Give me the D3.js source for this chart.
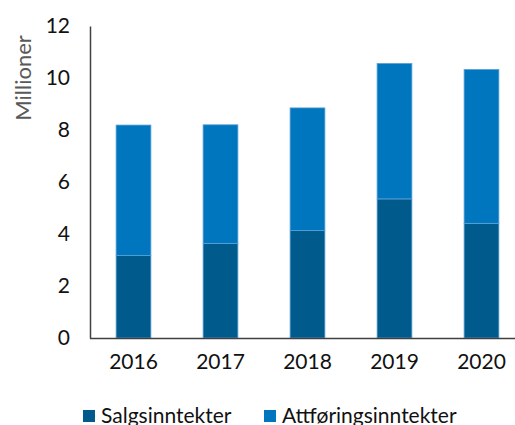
<!DOCTYPE html>
<html lang="no">
<head>
<meta charset="UTF-8">
<title>Inntekter</title>
<script src="https://cdn.jsdelivr.net/npm/d3@7"></script>
<style>
  body { margin: 0; background: #fff; }
  text { font-family: "Lato", "DejaVu Sans", sans-serif; }
</style>
</head>
<body>
<svg width="515" height="425" id="chart"></svg>
<script>
    const years = ['2016', '2017', '2018', '2019', '2020'];
    const salg = [3.17, 3.64, 4.13, 5.35, 4.41];
    const attforing = [5.02, 4.56, 4.72, 5.21, 5.92];
    const seriesNames = ['Salgsinntekter', 'Attføringsinntekter'];
    const colors = ['#005a8c', '#0076bf'];
    const yTicks = [0, 2, 4, 6, 8, 10, 12];

    const svg = d3.select('#chart');
    const x0 = 90, x1 = 525, yTop = 26, yBottom = 338;

    const rows = years.map((y, i) => ({year: y, Salgsinntekter: salg[i], 'Attføringsinntekter': attforing[i]}));
    const stacked = d3.stack().keys(seriesNames)(rows);

    const xScale = d3.scaleBand().domain(years).range([x0, x1]).paddingInner(0.6).paddingOuter(0.3);
    const yScale = d3.scaleLinear().domain([0, 12]).range([yBottom, yTop]);

    // bars
    svg.append('g').selectAll('g').data(stacked).join('g')
        .attr('fill', (d, i) => colors[i])
        .selectAll('rect').data(d => d).join('rect')
        .attr('x', d => xScale(d.data.year))
        .attr('width', xScale.bandwidth())
        .attr('y', d => yScale(d[1]))
        .attr('height', d => yScale(d[0]) - yScale(d[1]))
        .attr('stroke', '#5aa2d6').attr('stroke-width', 0.8);

    // y axis
    const yAxis = d3.axisLeft(yScale).tickValues(yTicks).tickSize(0).tickPadding(20);
    const gy = svg.append('g').attr('transform', `translate(${x0},0)`).call(yAxis);
    gy.select('.domain').attr('stroke', '#404040').attr('stroke-width', 1.5);
    gy.selectAll('.tick text').attr('font-size', 21).attr('fill', '#111')
        .style('font-family', 'Lato, "DejaVu Sans", sans-serif');

    // x axis
    const xAxis = d3.axisBottom(xScale).tickSize(0).tickPadding(16);
    const gx = svg.append('g').attr('transform', `translate(0,${yBottom})`).call(xAxis);
    gx.select('.domain').attr('d', `M${x0},0.5H515`).attr('stroke', '#404040').attr('stroke-width', 1.5);
    gx.selectAll('.tick text').attr('font-size', 21).attr('fill', '#111')
        .style('font-family', 'Lato, "DejaVu Sans", sans-serif');

    // y axis title
    svg.append('text').text('Millioner')
        .attr('transform', 'translate(31,78) rotate(-90)')
        .attr('text-anchor', 'middle').attr('font-size', 22).attr('fill', '#595959');

    // legend
    const legendX = [83, 264];
    const legend = svg.append('g').selectAll('g').data(seriesNames).join('g')
        .attr('transform', (d, i) => `translate(${legendX[i]},410)`);
    legend.append('rect').attr('width', 12).attr('height', 12).attr('fill', (d, i) => colors[i]);
    legend.append('text').text(d => d).attr('x', 18).attr('y', 12.5)
        .attr('font-size', 21).attr('fill', '#111');
</script>
</body>
</html>
